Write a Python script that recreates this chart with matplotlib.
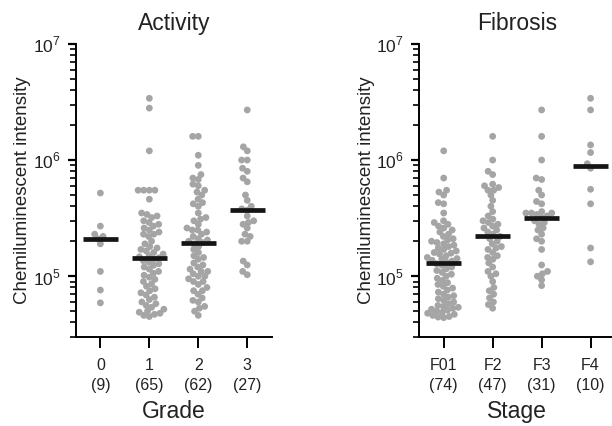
import matplotlib.pyplot as plt
import numpy as np

plt.rcParams['font.family'] = ['Liberation Sans', 'DejaVu Sans']
plt.rcParams['mathtext.fontset'] = 'custom'
plt.rcParams['mathtext.rm'] = 'Liberation Sans'

# Activity (grade)
grade_labels = ['0\n(9)', '1\n(65)', '2\n(62)', '3\n(27)']
grade0 = [5.2e5, 2.7e5, 2.3e5, 2.2e5, 2.1e5, 1.9e5, 1.1e5, 7.6e4, 5.9e4]
grade1 = [3.4e6, 2.8e6, 1.2e6, 5.5e5, 5.5e5, 5.5e5, 5.5e5, 4.6e5, 3.5e5, 3.4e5,
          3.3e5, 3.2e5, 3.0e5, 2.9e5, 2.8e5, 2.7e5, 2.6e5, 2.5e5, 2.4e5, 2.3e5,
          2.3e5, 2.2e5, 2.0e5, 1.9e5, 1.8e5, 1.75e5, 1.7e5, 1.65e5, 1.6e5, 1.55e5,
          1.5e5, 1.47e5, 1.44e5, 1.4e5, 1.36e5, 1.32e5, 1.28e5, 1.24e5, 1.2e5, 1.15e5,
          1.1e5, 1.06e5, 1.02e5, 9.8e4, 9.4e4, 9e4, 8.6e4, 8.2e4, 7.8e4, 7.5e4,
          7.2e4, 6.9e4, 6.6e4, 6.3e4, 6e4, 5.8e4, 5.6e4, 5.4e4, 5.2e4, 5e4,
          4.9e4, 4.8e4, 4.7e4, 4.6e4, 4.5e4]
grade2 = [1.6e6, 1.6e6, 1.1e6, 9e5, 7.5e5, 7e5, 6.8e5, 6.2e5, 6e5, 5.5e5,
          5.3e5, 5e5, 4.6e5, 4.3e5, 4.2e5, 4e5, 3.5e5, 3.2e5, 3.1e5, 3.0e5,
          2.8e5, 2.6e5, 2.5e5, 2.5e5, 2.4e5, 2.3e5, 2.2e5, 2.1e5, 2.05e5, 2e5,
          1.95e5, 1.9e5, 1.8e5, 1.7e5, 1.6e5, 1.5e5, 1.45e5, 1.4e5, 1.3e5, 1.25e5,
          1.2e5, 1.15e5, 1.1e5, 1.1e5, 1.05e5, 1e5, 1e5, 9.5e4, 9e4, 9e4,
          8.5e4, 8e4, 7.5e4, 7.5e4, 7e4, 6.5e4, 6.2e4, 6e4, 5.5e4, 5.3e4,
          5e4, 4.6e4]
grade3 = [2.7e6, 1.3e6, 1.2e6, 1.0e6, 1.0e6, 8.5e5, 8e5, 7e5, 6.5e5, 5e5,
          4.5e5, 4e5, 3.8e5, 3.7e5, 3.3e5, 3e5, 2.9e5, 2.8e5, 2.6e5, 2.3e5,
          2.2e5, 2e5, 2e5, 1.35e5, 1.25e5, 1.1e5, 1.03e5]

# Fibrosis (stage)
stage_labels = ['F01\n(74)', 'F2\n(47)', 'F3\n(31)', 'F4\n(10)']
f01 = [1.2e6, 7e5, 5.5e5, 5.3e5, 5e5, 4.3e5, 4.2e5, 3.5e5, 3e5, 2.9e5,
       2.8e5, 2.7e5, 2.6e5, 2.5e5, 2.4e5, 2.3e5, 2.2e5, 2.1e5, 2.05e5, 2e5,
       1.95e5, 1.9e5, 1.85e5, 1.8e5, 1.75e5, 1.7e5, 1.65e5, 1.6e5, 1.58e5, 1.55e5,
       1.5e5, 1.45e5, 1.42e5, 1.4e5, 1.37e5, 1.35e5, 1.32e5, 1.28e5, 1.24e5, 1.2e5,
       1.16e5, 1.12e5, 1.08e5, 1.04e5, 1e5, 9.6e4, 9.2e4, 8.8e4, 8.5e4, 8.2e4,
       7.9e4, 7.6e4, 7.3e4, 7e4, 6.8e4, 6.6e4, 6.4e4, 6.2e4, 6e4, 5.8e4,
       5.6e4, 5.5e4, 5.4e4, 5.3e4, 5.2e4, 5.1e4, 5e4, 4.9e4, 4.8e4, 4.7e4,
       4.6e4, 4.5e4, 4.45e4, 4.4e4]
f2 = [1.6e6, 1e6, 8e5, 7.5e5, 6.2e5, 6e5, 5.8e5, 5.5e5, 5.5e5, 5e5,
      4.5e5, 4e5, 3.6e5, 3.3e5, 3.1e5, 3e5, 2.9e5, 2.8e5, 2.7e5, 2.6e5,
      2.5e5, 2.4e5, 2.3e5, 2.2e5, 2.1e5, 2e5, 1.9e5, 1.8e5, 1.75e5, 1.7e5,
      1.6e5, 1.5e5, 1.45e5, 1.4e5, 1.3e5, 1.2e5, 1.1e5, 1.05e5, 1e5, 9e4,
      8e4, 7.5e4, 7e4, 6.5e4, 6e4, 5.7e4, 5.3e4]
f3 = [2.7e6, 1.6e6, 1e6, 7e5, 6.8e5, 5.5e5, 5e5, 4.4e5, 4.2e5, 3.6e5,
      3.5e5, 3.5e5, 3.5e5, 3.4e5, 3.3e5, 3.2e5, 3e5, 2.9e5, 2.8e5, 2.6e5,
      2.5e5, 2.3e5, 2.1e5, 2e5, 1.7e5, 1.25e5, 1.1e5, 1.05e5, 1e5, 9.3e4,
      8.3e4]
f4 = [3.4e6, 2.7e6, 1.35e6, 1.16e6, 9.3e5, 8.5e5, 5.6e5, 4.2e5, 1.75e5, 1.33e5]

PX_DECADE = 116.0  # pixels per decade on the y axis
PX_UNIT = 49.0     # pixels per category on the x axis
DOT = 5.6          # dot spacing in pixels (dots overlap a little)


# simple beeswarm: place each point as close to the centre as it can go
def swarm(values):
    y = np.log10(values) * PX_DECADE
    order = np.argsort(y)
    placed = []
    offs = np.zeros(len(y))
    for i in order:
        cands = [0.0]
        for (px, py) in placed:
            dy = y[i] - py
            if abs(dy) < DOT:
                dx = np.sqrt(DOT**2 - dy**2)
                cands += [px + dx, px - dx]
        cands.sort(key=lambda c: (abs(c), c))
        for c in cands:
            ok = True
            for (px, py) in placed:
                if (c - px)**2 + (y[i] - py)**2 < DOT**2 - 1e-6:
                    ok = False
                    break
            if ok:
                break
        placed.append((c, y[i]))
        offs[i] = c
    return offs / PX_UNIT


def panel(ax, groups, labels, title, xlabel):
    for k, vals in enumerate(groups):
        xs = k + swarm(vals)
        ax.scatter(xs, vals, s=24, color='#a5a5a5', edgecolors='none', zorder=2)
        ax.hlines(np.median(vals), k - 0.36, k + 0.36, color='#151515', lw=3.4, zorder=3)
    ax.set_yscale('log')
    ax.set_ylim(3e4, 1e7)
    ax.set_xlim(-0.5, 3.5)
    ax.set_xticks(range(len(groups)))
    ax.set_xticklabels(labels, fontsize=11.5, linespacing=1.45, color='#222222')
    ax.set_yticks([1e5, 1e6, 1e7])
    ax.set_yticklabels([r'$10^5$', r'$10^6$', r'$10^7$'], fontsize=12.5, color='#222222')
    ax.tick_params(axis='y', which='major', direction='out', length=6, width=1.6, pad=5)
    ax.tick_params(axis='y', which='minor', direction='out', length=4, width=1.2)
    ax.tick_params(axis='x', direction='out', length=8, width=1.4, pad=7)
    for s in ['top', 'right']:
        ax.spines[s].set_visible(False)
    for s in ['left', 'bottom']:
        ax.spines[s].set_linewidth(1.4)
    ax.set_ylabel('Chemiluminescent intensity', fontsize=13.5, labelpad=1, color='#222222')
    ax.set_title(title, fontsize=16.5, pad=10, color='#222222')
    ax.set_xlabel(xlabel, fontsize=16.5, labelpad=5, color='#222222')


fig = plt.figure(figsize=(6.12, 4.26), dpi=100)
ax1 = fig.add_axes([0.124, 0.209, 0.32, 0.688])
ax2 = fig.add_axes([0.685, 0.209, 0.32, 0.688])

panel(ax1, [grade0, grade1, grade2, grade3], grade_labels, 'Activity', 'Grade')
panel(ax2, [f01, f2, f3, f4], stage_labels, 'Fibrosis', 'Stage')

plt.savefig('out.png', dpi=100)
